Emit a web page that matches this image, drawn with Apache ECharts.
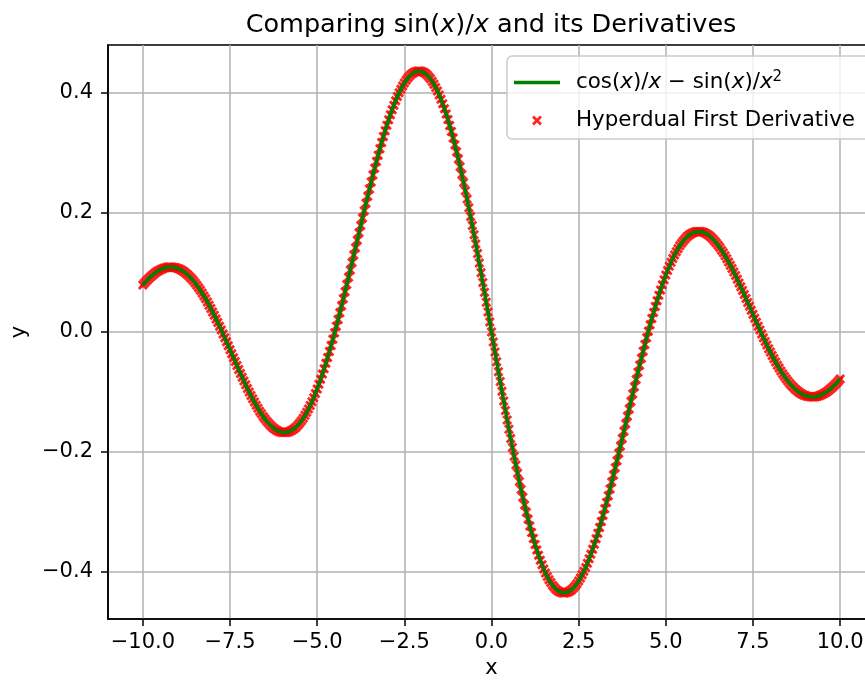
<!DOCTYPE html>
<html>
<head>
<meta charset="utf-8">
<script src="https://cdn.jsdelivr.net/npm/echarts@6/dist/echarts.min.js"></script>
<style>
  html, body { margin: 0; background: #fff; }
  #chart { width: 865px; height: 680px; }
</style>
</head>
<body>
<div id="chart"></div>
<script>
// Comparing sin(x)/x and its derivatives — analytic curve vs hyperdual samples

const FONT = "DejaVu Sans";
const LINE_NAME = "cos(x)/x - sin(x)/x^2";
const SCATTER_NAME = "Hyperdual First Derivative";

const xTicks = [-10, -7.5, -5, -2.5, 0, 2.5, 5, 7.5, 10];
const yTicks = [-0.4, -0.2, 0, 0.2, 0.4];

// sample positions
const xValues = [
  -10,-9.95,-9.9,-9.85,-9.8,-9.75,-9.7,-9.65,-9.6,-9.55,-9.5,-9.45,-9.4,-9.35,-9.3,-9.25,-9.2,-9.15,-9.1,-9.05,
  -9,-8.95,-8.9,-8.85,-8.8,-8.75,-8.7,-8.65,-8.6,-8.55,-8.5,-8.45,-8.4,-8.35,-8.3,-8.25,-8.2,-8.15,-8.1,-8.05,
  -8,-7.95,-7.9,-7.85,-7.8,-7.75,-7.7,-7.65,-7.6,-7.55,-7.5,-7.45,-7.4,-7.35,-7.3,-7.25,-7.2,-7.15,-7.1,-7.05,
  -7,-6.95,-6.9,-6.85,-6.8,-6.75,-6.7,-6.65,-6.6,-6.55,-6.5,-6.45,-6.4,-6.35,-6.3,-6.25,-6.2,-6.15,-6.1,-6.05,
  -6,-5.95,-5.9,-5.85,-5.8,-5.75,-5.7,-5.65,-5.6,-5.55,-5.5,-5.45,-5.4,-5.35,-5.3,-5.25,-5.2,-5.15,-5.1,-5.05,
  -5,-4.95,-4.9,-4.85,-4.8,-4.75,-4.7,-4.65,-4.6,-4.55,-4.5,-4.45,-4.4,-4.35,-4.3,-4.25,-4.2,-4.15,-4.1,-4.05,
  -4,-3.95,-3.9,-3.85,-3.8,-3.75,-3.7,-3.65,-3.6,-3.55,-3.5,-3.45,-3.4,-3.35,-3.3,-3.25,-3.2,-3.15,-3.1,-3.05,
  -3,-2.95,-2.9,-2.85,-2.8,-2.75,-2.7,-2.65,-2.6,-2.55,-2.5,-2.45,-2.4,-2.35,-2.3,-2.25,-2.2,-2.15,-2.1,-2.05,
  -2,-1.95,-1.9,-1.85,-1.8,-1.75,-1.7,-1.65,-1.6,-1.55,-1.5,-1.45,-1.4,-1.35,-1.3,-1.25,-1.2,-1.15,-1.1,-1.05,
  -1,-0.95,-0.9,-0.85,-0.8,-0.75,-0.7,-0.65,-0.6,-0.55,-0.5,-0.45,-0.4,-0.35,-0.3,-0.25,-0.2,-0.15,-0.1,-0.05,
  0,
  0.05,0.1,0.15,0.2,0.25,0.3,0.35,0.4,0.45,0.5,0.55,0.6,0.65,0.7,0.75,0.8,0.85,0.9,0.95,1,
  1.05,1.1,1.15,1.2,1.25,1.3,1.35,1.4,1.45,1.5,1.55,1.6,1.65,1.7,1.75,1.8,1.85,1.9,1.95,2,
  2.05,2.1,2.15,2.2,2.25,2.3,2.35,2.4,2.45,2.5,2.55,2.6,2.65,2.7,2.75,2.8,2.85,2.9,2.95,3,
  3.05,3.1,3.15,3.2,3.25,3.3,3.35,3.4,3.45,3.5,3.55,3.6,3.65,3.7,3.75,3.8,3.85,3.9,3.95,4,
  4.05,4.1,4.15,4.2,4.25,4.3,4.35,4.4,4.45,4.5,4.55,4.6,4.65,4.7,4.75,4.8,4.85,4.9,4.95,5,
  5.05,5.1,5.15,5.2,5.25,5.3,5.35,5.4,5.45,5.5,5.55,5.6,5.65,5.7,5.75,5.8,5.85,5.9,5.95,6,
  6.05,6.1,6.15,6.2,6.25,6.3,6.35,6.4,6.45,6.5,6.55,6.6,6.65,6.7,6.75,6.8,6.85,6.9,6.95,7,
  7.05,7.1,7.15,7.2,7.25,7.3,7.35,7.4,7.45,7.5,7.55,7.6,7.65,7.7,7.75,7.8,7.85,7.9,7.95,8,
  8.05,8.1,8.15,8.2,8.25,8.3,8.35,8.4,8.45,8.5,8.55,8.6,8.65,8.7,8.75,8.8,8.85,8.9,8.95,9,
  9.05,9.1,9.15,9.2,9.25,9.3,9.35,9.4,9.45,9.5,9.55,9.6,9.65,9.7,9.75,9.8,9.85,9.9,9.95,10
];

// derivative values at those positions (same for the analytic line and the hyperdual points)
const derivValues = [
  0.0785,0.0819,0.0852,0.0882,0.0911,0.0938,0.0963,0.0986,0.1007,0.1025,0.1041,0.1055,0.1066,0.1075,0.1081,0.1085,0.1086,0.1084,0.1080,0.1073,
  0.1063,0.1051,0.1036,0.1018,0.0997,0.0974,0.0948,0.0920,0.0889,0.0855,0.0819,0.0780,0.0739,0.0696,0.0651,0.0603,0.0554,0.0502,0.0449,0.0393,
  0.0336,0.0278,0.0218,0.0157,0.0095,0.0032,-0.0033,-0.0098,-0.0163,-0.0229,-0.0295,-0.0362,-0.0429,-0.0495,-0.0561,-0.0627,-0.0692,-0.0756,-0.0820,-0.0882,
  -0.0943,-0.1003,-0.1061,-0.1117,-0.1172,-0.1224,-0.1275,-0.1323,-0.1368,-0.1411,-0.1452,-0.1489,-0.1523,-0.1555,-0.1583,-0.1608,-0.1629,-0.1647,-0.1661,-0.1671,
  -0.1678,-0.1681,-0.1679,-0.1674,-0.1665,-0.1651,-0.1634,-0.1612,-0.1586,-0.1556,-0.1522,-0.1483,-0.1440,-0.1393,-0.1342,-0.1287,-0.1228,-0.1164,-0.1097,-0.1026,
  -0.0951,-0.0872,-0.0790,-0.0704,-0.0615,-0.0522,-0.0426,-0.0328,-0.0226,-0.0121,-0.0014,0.0095,0.0207,0.0321,0.0437,0.0554,0.0673,0.0794,0.0915,0.1038,
  0.1161,0.1285,0.1409,0.1534,0.1658,0.1782,0.1905,0.2028,0.2150,0.2270,0.2389,0.2507,0.2623,0.2736,0.2848,0.2956,0.3063,0.3166,0.3266,0.3363,
  0.3457,0.3547,0.3633,0.3715,0.3792,0.3866,0.3935,0.3999,0.4058,0.4113,0.4162,0.4206,0.4245,0.4279,0.4307,0.4329,0.4346,0.4356,0.4361,0.4361,
  0.4354,0.4341,0.4323,0.4298,0.4268,0.4232,0.4189,0.4141,0.4087,0.4027,0.3962,0.3891,0.3814,0.3732,0.3644,0.3551,0.3453,0.3350,0.3242,0.3129,
  0.3012,0.2890,0.2764,0.2634,0.2500,0.2362,0.2221,0.2077,0.1929,0.1778,0.1625,0.1470,0.1312,0.1152,0.0991,0.0828,0.0664,0.0499,0.0333,0.0167,
  0,
  -0.0167,-0.0333,-0.0499,-0.0664,-0.0828,-0.0991,-0.1152,-0.1312,-0.1470,-0.1625,-0.1778,-0.1929,-0.2077,-0.2221,-0.2362,-0.2500,-0.2634,-0.2764,-0.2890,-0.3012,
  -0.3129,-0.3242,-0.3350,-0.3453,-0.3551,-0.3644,-0.3732,-0.3814,-0.3891,-0.3962,-0.4027,-0.4087,-0.4141,-0.4189,-0.4232,-0.4268,-0.4298,-0.4323,-0.4341,-0.4354,
  -0.4361,-0.4361,-0.4356,-0.4346,-0.4329,-0.4307,-0.4279,-0.4245,-0.4206,-0.4162,-0.4113,-0.4058,-0.3999,-0.3935,-0.3866,-0.3792,-0.3715,-0.3633,-0.3547,-0.3457,
  -0.3363,-0.3266,-0.3166,-0.3063,-0.2956,-0.2848,-0.2736,-0.2623,-0.2507,-0.2389,-0.2270,-0.2150,-0.2028,-0.1905,-0.1782,-0.1658,-0.1534,-0.1409,-0.1285,-0.1161,
  -0.1038,-0.0915,-0.0794,-0.0673,-0.0554,-0.0437,-0.0321,-0.0207,-0.0095,0.0014,0.0121,0.0226,0.0328,0.0426,0.0522,0.0615,0.0704,0.0790,0.0872,0.0951,
  0.1026,0.1097,0.1164,0.1228,0.1287,0.1342,0.1393,0.1440,0.1483,0.1522,0.1556,0.1586,0.1612,0.1634,0.1651,0.1665,0.1674,0.1679,0.1681,0.1678,
  0.1671,0.1661,0.1647,0.1629,0.1608,0.1583,0.1555,0.1523,0.1489,0.1452,0.1411,0.1368,0.1323,0.1275,0.1224,0.1172,0.1117,0.1061,0.1003,0.0943,
  0.0882,0.0820,0.0756,0.0692,0.0627,0.0561,0.0495,0.0429,0.0362,0.0295,0.0229,0.0163,0.0098,0.0033,-0.0032,-0.0095,-0.0157,-0.0218,-0.0278,-0.0336,
  -0.0393,-0.0449,-0.0502,-0.0554,-0.0603,-0.0651,-0.0696,-0.0739,-0.0780,-0.0819,-0.0855,-0.0889,-0.0920,-0.0948,-0.0974,-0.0997,-0.1018,-0.1036,-0.1051,-0.1063,
  -0.1073,-0.1080,-0.1084,-0.1086,-0.1085,-0.1081,-0.1075,-0.1066,-0.1055,-0.1041,-0.1025,-0.1007,-0.0986,-0.0963,-0.0938,-0.0911,-0.0882,-0.0852,-0.0819,-0.0785
];

if (xValues.length !== derivValues.length) {
  throw new Error("length mismatch: " + xValues.length + " vs " + derivValues.length);
}

const points = xValues.map((x, i) => [x, derivValues[i]]);

// filled "x" marker, like matplotlib's marker="x"
const X_MARK = "path://M0,2L2,0L5,3L8,0L10,2L7,5L10,8L8,10L5,7L2,10L0,8L3,5Z";
// plain stroke for the line entry of the legend (no dot in the middle)
const LINE_ICON = "path://M0,0H46V3.5H0Z";

function tickText(v) {
  return (v < 0 ? "\u2212" : "") + Math.abs(v).toFixed(1);
}

const txt = { fontFamily: FONT, fontSize: 21.4, lineHeight: 25, color: "#000" };
const legendRich = {
  g: { width: 11 },
  t: txt,
  i: Object.assign({}, txt, { fontStyle: "italic" }),
  s: { fontFamily: FONT, fontSize: 15, lineHeight: 15, color: "#000", verticalAlign: "top" },
};

const chart = echarts.init(document.getElementById("chart"));

chart.setOption({
  animation: false,
  backgroundColor: "#fff",
  title: {
    text: "{n|Comparing sin(}{i|x}{n|)/}{i|x}{n| and its Derivatives}",
    left: 486,
    top: 7,
    textAlign: "center",
    textStyle: {
      fontFamily: FONT,
      fontSize: 25.5,
      fontWeight: "normal",
      color: "#000",
      rich: {
        n: { fontFamily: FONT, fontSize: 25.5, color: "#000" },
        i: { fontFamily: FONT, fontSize: 25.5, color: "#000", fontStyle: "italic" },
      },
    },
  },
  legend: {
    orient: "vertical",
    left: 507,
    top: 56,
    padding: [14, 30, 6, 7],
    itemGap: 13,
    itemWidth: 46,
    itemHeight: 10,
    backgroundColor: "rgba(255,255,255,0.8)",
    borderColor: "#cccccc",
    borderWidth: 1.5,
    borderRadius: 5,
    data: [{ name: LINE_NAME, icon: LINE_ICON }, { name: SCATTER_NAME }],
    formatter: (name) =>
      name === LINE_NAME
        ? "{g| }{t|cos(}{i|x}{t|)/}{i|x}{t| \u2212 sin(}{i|x}{t|)/}{i|x}{s|2}"
        : "{g| }{t|" + name + "}",
    textStyle: Object.assign({}, txt, { rich: legendRich }),
  },
  grid: {
    left: 108,
    right: -10,
    top: 45,
    bottom: 61,
    show: true,
    borderColor: "#000",
    borderWidth: 1.6,
    containLabel: false,
    outerBoundsMode: "none",
  },
  xAxis: {
    type: "value",
    min: -11,
    max: 11,
    name: "x",
    nameLocation: "middle",
    nameGap: 39,
    nameTextStyle: { fontFamily: FONT, fontSize: 21, color: "#000" },
    axisLine: { show: true, onZero: false, lineStyle: { color: "#000", width: 1.6 } },
    axisTick: { show: true, customValues: xTicks, length: 7, lineStyle: { color: "#000", width: 1.5 } },
    axisLabel: {
      customValues: xTicks,
      formatter: tickText,
      margin: 13,
      fontFamily: FONT,
      fontSize: 21,
      color: "#000",
    },
    splitLine: { show: true, lineStyle: { color: "#b0b0b0", width: 1.5 } },
  },
  yAxis: {
    type: "value",
    min: -0.4797,
    max: 0.4797,
    name: "y",
    nameLocation: "middle",
    nameGap: 78,
    nameTextStyle: { fontFamily: FONT, fontSize: 21, color: "#000" },
    axisLine: { show: true, onZero: false, lineStyle: { color: "#000", width: 1.6 } },
    axisTick: { show: true, customValues: yTicks, length: 7, lineStyle: { color: "#000", width: 1.5 } },
    axisLabel: {
      customValues: yTicks,
      formatter: tickText,
      margin: 15,
      fontFamily: FONT,
      fontSize: 21,
      color: "#000",
    },
    splitLine: { show: true, lineStyle: { color: "#b0b0b0", width: 1.5 } },
  },
  series: [
    {
      name: LINE_NAME,
      type: "line",
      data: points,
      symbol: "none",
      showSymbol: false,
      z: 3,
      lineStyle: { color: "#008000", width: 3.5 },
      itemStyle: { color: "#008000" },
    },
    {
      name: SCATTER_NAME,
      type: "scatter",
      data: points,
      symbol: X_MARK,
      symbolSize: 10,
      symbolKeepAspect: true,
      z: 2,
      itemStyle: { color: "#ff0000", opacity: 0.85 },
    },
  ],
});
</script>
</body>
</html>
